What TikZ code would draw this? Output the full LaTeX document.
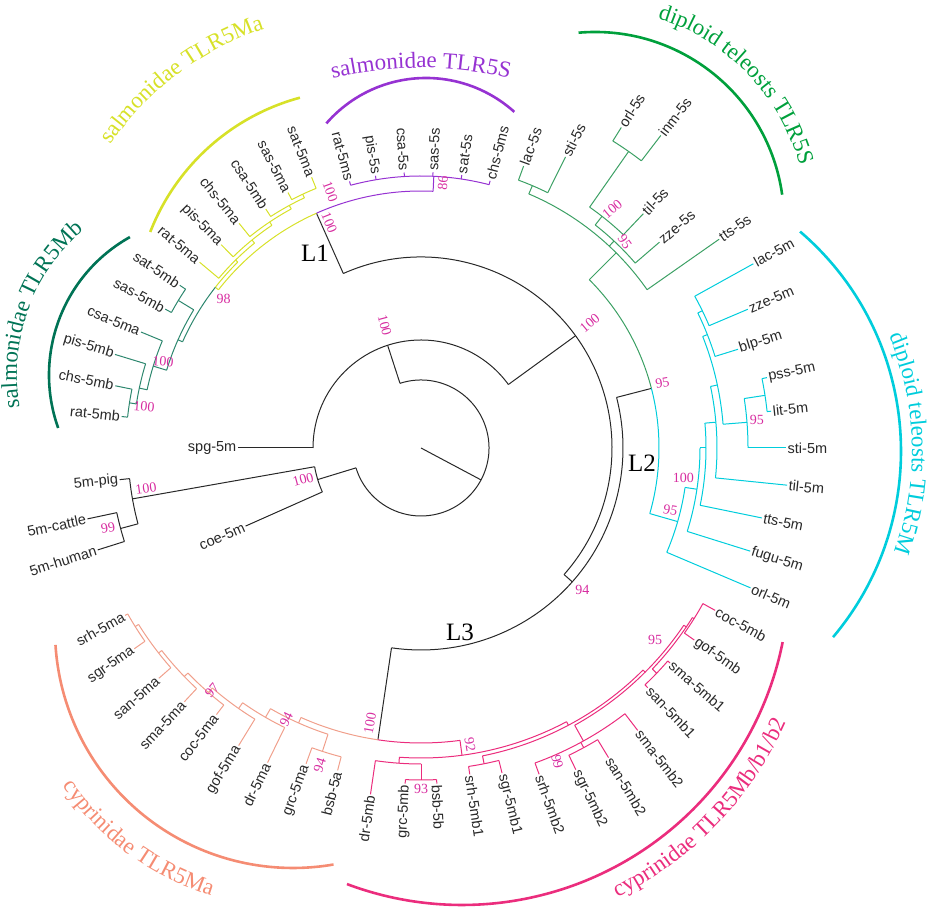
\documentclass[tikz,border=0pt]{standalone}
\usepackage{fontspec}
\setmainfont{Liberation Serif}
\newfontfamily\lblfont{Liberation Sans}
\usetikzlibrary{decorations.text}
\definecolor{blk}{RGB}{40,40,40}
\definecolor{pur}{RGB}{150,50,210}
\definecolor{yel}{RGB}{215,225,40}
\definecolor{tea}{RGB}{45,135,110}
\definecolor{teaD}{RGB}{0,115,85}
\definecolor{grn}{RGB}{60,160,100}
\definecolor{grnD}{RGB}{0,160,60}
\definecolor{cya}{RGB}{0,205,220}
\definecolor{sal}{RGB}{240,160,140}
\definecolor{salD}{RGB}{245,140,115}
\definecolor{mag}{RGB}{235,45,125}
\definecolor{bsc}{RGB}{215,45,160}
\definecolor{lblc}{RGB}{40,40,40}
\tikzset{
  br/.style={line width=1pt},
  grp/.style={line width=2.6pt},
  lbl/.style={font=\lblfont\fontsize{14.5}{16}\selectfont, text=lblc, inner sep=1.5pt},
  bsl/.style={font=\fontsize{14}{16}\selectfont, text=bsc, inner sep=0pt},
  llab/.style={font=\fontsize{25}{27}\selectfont, text=black, inner sep=0pt},
}
\newcommand\mkrad[4]{\draw[br,#1] ({#2}:{#3}) -- ({#2}:{#4});}
\newcommand\mkarc[4]{\draw[br,#1] ({#3}:{#2}) arc[start angle={#3}, end angle={#4}, radius={#2}];}
\newcommand\mkleaf[6]{%
  \draw[br,#5] ({#2}:{#3}) -- ({#2}:{#4}) coordinate (t-#1);
  \pgfmathtruncatemacro\rside{cos(#2)>=0 ? 1 : 0}%
  \ifnum\rside=1\relax
    \node[lbl,rotate={#2},anchor=west] (n-#1) at (t-#1) {#6};%
  \else
    \node[lbl,rotate={#2+180},anchor=east] (n-#1) at (t-#1) {#6};%
  \fi}
\newcommand\mkbs[5]{\node[bsl,rotate={#4}] (b-#1) at ({#2}:{#3}) {#5};}
\newcommand\grptext[7]{% center x, y, radius, start, end, color, text
  \path[decorate, decoration={text along path, text align=center, text color=#6,
     text={|\fontsize{23}{25}\selectfont|#7}}]
     ([shift={(#4:#3)}]#1,#2) arc[start angle=#4, end angle=#5, radius=#3];}
\newcommand\grparc[6]{\draw[grp,#6] ([shift={(#4:#3)}]#1,#2) arc[start angle=#4, end angle=#5, radius=#3];}

\begin{document}
\begin{tikzpicture}[x=1pt,y=1pt]
\useasboundingbox (0,0) rectangle (934,909);
\begin{scope}[shift={(421,461)}]
% ---- backbone (black)
\coordinate (root) at (0,0);
\coordinate (r0) at (-28:68);
\draw[br,blk] (root) -- (r0);
\mkarc{blk}{68}{108}{-163}
\mkrad{blk}{108}{68}{108}
\mkrad{blk}{197}{68}{108}
\mkarc{blk}{108}{180}{36}
\mkarc{blk}{108}{190}{204}
\mkleaf{spg}{180}{108}{183}{blk}{spg-5m}
\mkleaf{coe}{204}{108}{192}{blk}{coe-5m}
\mkrad{blk}{190}{108}{293}
\mkarc{blk}{293}{186}{195}
\mkleaf{pig}{186}{293}{303}{blk}{5m-pig}
\mkrad{blk}{195}{293}{311}
\mkarc{blk}{311}{192}{197.5}
\mkleaf{cattle}{192}{311}{341}{blk}{5m-cattle}
\mkleaf{human}{197.5}{311}{339}{blk}{5m-human}
\mkrad{blk}{36}{108}{191}
\mkarc{blk}{191}{114}{-41.5}
\mkrad{blk}{114}{191}{257}
\mkrad{blk}{-41.5}{191}{202}
\mkarc{blk}{202}{14.5}{-98.4}
\mkrad{blk}{14.5}{202}{238}
\mkrad{blk}{-98.4}{202}{295}
% ---- salmonidae TLR5S (purple)
\mkarc{pur}{257}{114}{87.3}
\mkrad{pur}{87.3}{257}{272}
\mkarc{pur}{272}{105}{75.5}
\mkleaf{ratms}{105}{272}{276}{pur}{rat-5ms}
\mkleaf{piss}{99.5}{272}{276}{pur}{pis-5s}
\mkleaf{csas}{93.5}{272}{276}{pur}{csa-5s}
\mkleaf{sass}{87.5}{272}{276}{pur}{sas-5s}
\mkleaf{sats}{81.5}{272}{276}{pur}{sat-5s}
\mkleaf{chsms}{75.5}{272}{276}{pur}{chs-5ms}
% ---- salmonidae TLR5Ma (yellow)
\mkarc{yel}{257}{114}{142}
\mkrad{yel}{142}{257}{261}
\mkarc{yel}{261}{142}{134.6}
\mkrad{yel}{134.6}{261}{264}
\mkarc{yel}{264}{129.1}{140}
\mkleaf{ratma}{140}{264}{289}{yel}{rat-5ma}
\mkrad{yel}{129.1}{264}{268}
\mkarc{yel}{268}{123.8}{134.5}
\mkleaf{pisma}{134.5}{268}{285}{yel}{pis-5ma}
\mkrad{yel}{123.8}{268}{272}
\mkarc{yel}{272}{118.5}{129}
\mkleaf{chsma}{129}{272}{289}{yel}{chs-5ma}
\mkrad{yel}{118.5}{272}{276}
\mkarc{yel}{276}{115}{123}
\mkleaf{csamb}{123}{276}{285}{yel}{csa-5mb}
\mkrad{yel}{115}{276}{280}
\mkarc{yel}{280}{112}{117.5}
\mkleaf{satma}{112}{280}{292}{yel}{sat-5ma}
\mkleaf{sasma}{117.5}{280}{288}{yel}{sas-5ma}
% ---- salmonidae TLR5Mb (teal)
\mkarc{tea}{261}{142}{156}
\mkrad{tea}{156}{261}{266}
\mkarc{tea}{266}{148.7}{163}
\mkrad{tea}{148.7}{266}{284}
\mkarc{tea}{284}{146}{151.5}
\mkleaf{satmb}{146}{284}{291}{tea}{sat-5mb}
\mkleaf{sasmb}{151.5}{284}{291}{tea}{sas-5mb}
\mkrad{tea}{163}{266}{280}
\mkarc{tea}{280}{157.5}{168}
\mkleaf{csama}{157.5}{280}{303}{tea}{csa-5ma}
\mkrad{tea}{168}{280}{288}
\mkarc{tea}{288}{163}{171.2}
\mkleaf{pismb}{163}{288}{320}{tea}{pis-5mb}
\mkrad{tea}{171.2}{288}{295}
\mkarc{tea}{295}{168.5}{174}
\mkleaf{chsmb}{168.5}{295}{312}{tea}{chs-5mb}
\mkleaf{ratmb}{174}{295}{301}{tea}{rat-5mb}
% ---- diploid teleosts TLR5S (green)
\mkarc{grn}{238}{14.5}{45}
\mkrad{grn}{45}{238}{276}
\mkarc{grn}{276}{67}{35}
\mkrad{grn}{67}{276}{285}
\mkarc{grn}{285}{70}{63.6}
\mkleaf{lacs}{70}{285}{300}{grn}{lac-5s}
\mkleaf{stis}{63.6}{285}{325}{grn}{sti-5s}
\mkleaf{ttss}{35}{276}{364}{grn}{tts-5s}
\mkrad{grn}{47}{276}{283}
\mkarc{grn}{283}{52}{40.8}
\mkleaf{zzes}{40.8}{283}{315}{grn}{zze-5s}
\mkrad{grn}{52}{283}{294}
\mkarc{grn}{294}{55}{46.5}
\mkleaf{tils}{46.5}{294}{323}{grn}{til-5s}
\mkrad{grn}{55}{294}{362}
\mkarc{grn}{362}{58}{52.5}
\mkleaf{orls}{58}{362}{378}{grn}{orl-5s}
\mkleaf{inms}{52.5}{362}{394}{grn}{inm-5s}
% ---- diploid teleosts TLR5M (cyan)
\mkarc{cya}{238}{14.5}{-16}
\mkrad{cya}{-16}{238}{267}
\mkarc{cya}{267}{-8.5}{-23}
\mkleaf{orlm}{-23}{267}{358}{cya}{orl-5m}
\mkrad{cya}{-8.5}{267}{279}
\mkarc{cya}{279}{0}{-17.4}
\mkleaf{fugum}{-17.4}{279}{345}{cya}{fugu-5m}
\mkrad{cya}{0}{279}{285}
\mkarc{cya}{285}{5}{-11.6}
\mkleaf{ttsm}{-11.6}{285}{348}{cya}{tts-5m}
\mkrad{cya}{5}{285}{296}
\mkarc{cya}{296}{12}{-5.8}
\mkleaf{tilm}{-5.8}{296}{368}{cya}{til-5m}
\mkrad{cya}{12}{296}{303}
\mkarc{cya}{303}{4.5}{21.6}
\mkrad{cya}{4.5}{303}{327}
\mkarc{cya}{327}{0}{8.7}
\mkleaf{stim}{0}{327}{365}{cya}{sti-5m}
\mkrad{cya}{8.7}{327}{348}
\mkarc{cya}{348}{6}{11.5}
\mkleaf{pssm}{11.5}{348}{353}{cya}{pss-5m}
\mkleaf{litm}{6}{348}{352}{cya}{lit-5m}
\mkrad{cya}{21.6}{303}{308}
\mkarc{cya}{308}{17.3}{26}
\mkleaf{blpm}{17.3}{308}{332}{cya}{blp-5m}
\mkrad{cya}{26}{308}{313}
\mkarc{cya}{313}{23}{29}
\mkleaf{zzem}{23}{313}{355}{cya}{zze-5m}
\mkleaf{lacm}{29}{313}{380}{cya}{lac-5m}
% ---- cyprinidae TLR5Ma (salmon)
\mkarc{sal}{295}{261.6}{246}
\mkrad{sal}{246}{295}{301}
\mkarc{sal}{301}{240}{252}
\mkrad{sal}{252}{301}{319}
\mkarc{sal}{319}{250}{255.5}
\mkleaf{grcma}{250}{319}{336}{sal}{grc-5ma}
\mkleaf{bsba}{255.5}{319}{333}{sal}{bsb-5a}
\mkrad{sal}{240}{301}{311}
\mkarc{sal}{311}{235}{244}
\mkleaf{drma}{244}{311}{350}{sal}{dr-5ma}
\mkrad{sal}{235}{311}{318}
\mkarc{sal}{318}{229}{238.5}
\mkleaf{gofma}{238.5}{318}{349}{sal}{gof-5ma}
\mkrad{sal}{229}{318}{324}
\mkarc{sal}{324}{224}{232.5}
\mkleaf{cocma}{232.5}{324}{336}{sal}{coc-5ma}
\mkrad{sal}{224}{324}{329}
\mkarc{sal}{329}{218}{227}
\mkleaf{smama}{227}{329}{347}{sal}{sma-5ma}
\mkrad{sal}{218}{329}{333}
\mkarc{sal}{333}{212}{221.3}
\mkleaf{sanma}{221.3}{333}{349}{sal}{san-5ma}
\mkrad{sal}{212}{333}{337}
\mkarc{sal}{337}{209.5}{215}
\mkleaf{srhma}{209.5}{337}{340}{sal}{srh-5ma}
\mkleaf{sgrma}{215}{337}{350}{sal}{sgr-5ma}
% ---- cyprinidae TLR5Mb/b1/b2 (magenta)
\mkarc{mag}{295}{261.6}{277.6}
\mkrad{mag}{277.6}{295}{310}
\mkarc{mag}{310}{266}{298}
\mkrad{mag}{266}{310}{316}
\mkarc{mag}{316}{261.7}{270}
\mkleaf{drmb}{261.7}{316}{350}{mag}{dr-5mb}
\mkrad{mag}{270}{316}{332}
\mkarc{mag}{332}{267.3}{272.7}
\mkleaf{grcmb}{267.3}{332}{336}{mag}{grc-5mb}
\mkleaf{bsbb}{272.7}{332}{336}{mag}{bsb-5b}
\mkrad{mag}{298}{310}{314}
\mkarc{mag}{314}{281.3}{315}
\mkrad{mag}{281.3}{314}{322}
\mkarc{mag}{322}{278.5}{284}
\mkleaf{srhb1}{278.5}{322}{330}{mag}{srh-5mb1}
\mkleaf{sgrb1}{284}{322}{335}{mag}{sgr-5mb1}
\mkrad{mag}{315}{314}{317}
\mkarc{mag}{317}{299}{326}
\mkrad{mag}{299}{317}{335}
\mkarc{mag}{335}{289.9}{307.5}
\mkleaf{srhb2}{289.9}{335}{347}{mag}{srh-5mb2}
\mkleaf{smab2}{307.5}{335}{356}{mag}{sma-5mb2}
\mkrad{mag}{298.5}{335}{341}
\mkarc{mag}{341}{295.7}{301.2}
\mkleaf{sgrb2}{295.7}{341}{357}{mag}{sgr-5mb2}
\mkleaf{sanb2}{301.2}{341}{362}{mag}{san-5mb2}
\mkrad{mag}{326}{317}{320}
\mkarc{mag}{320}{316.3}{328}
\mkrad{mag}{316.3}{320}{326}
\mkarc{mag}{326}{313.4}{319.2}
\mkleaf{sanb1}{313.4}{326}{330}{mag}{san-5mb1}
\mkleaf{smab1}{319.2}{326}{329}{mag}{sma-5mb1}
\mkrad{mag}{328}{320}{322}
\mkarc{mag}{322}{324.9}{331.1}
\mkleaf{gofmb}{324.9}{322}{334}{mag}{gof-5mb}
\mkleaf{cocmb}{331.1}{322}{336}{mag}{coc-5mb}
% ---- bootstrap values
\mkbs{1}{106.5}{128}{-75}{100}
\mkbs{2}{195}{122}{15}{100}
\mkbs{3}{188.3}{278}{8}{100}
\mkbs{4}{194.3}{323}{10}{99}
\mkbs{5}{36.5}{210}{40}{100}
\mkbs{6}{112.2}{243}{-68}{100}
\mkbs{7}{109.5}{272}{-70}{100}
\mkbs{8}{85.3}{266}{85}{86}
\mkbs{9}{143}{247}{0}{98}
\mkbs{10}{161.5}{272}{-5}{100}
\mkbs{11}{171.5}{280}{-5}{100}
\mkbs{12}{15.1}{250}{10}{95}
\mkbs{13}{-41.4}{215}{0}{94}
\mkbs{14}{-14}{257}{-10}{95}
\mkbs{15}{-6.5}{264}{0}{100}
\mkbs{16}{4.8}{337}{0}{95}
\mkbs{17}{51.3}{306}{40}{100}
\mkbs{18}{45.3}{290}{-55}{95}
\mkbs{19}{229.2}{320}{49}{97}
\mkbs{20}{243.6}{303}{64}{94}
\mkbs{21}{252.3}{333}{72}{94}
\mkbs{22}{-100.5}{280}{80}{100}
\mkbs{23}{-80.6}{301}{-80}{92}
\mkbs{24}{270}{341}{0}{93}
\mkbs{25}{-66.5}{342}{-75}{99}
\mkbs{26}{-39.4}{303}{0}{95}
\end{scope}
% ---- clade labels L1 L2 L3
\node[llab] (L1) at (315,656) {L1};
\node[llab] (L2) at (642,446) {L2};
\node[llab] (L3) at (460,277) {L3};
% ---- group arcs and names
\grparc{426}{699}{132}{139}{48}{pur}
\grptext{421}{461}{380}{110}{70}{pur}{salmonidae TLR5S}
\grparc{358}{596}{223}{158.7}{105.1}{yel}
\grptext{358}{596}{299}{162}{92}{yel}{salmonidae TLR5Ma}
\grparc{207}{534}{158}{119.2}{199.6}{teaD}
\grptext{207}{534}{190}{200}{120}{teaD}{salmonidae TLR5Mb}
\grparc{595}{688}{189}{95}{8}{grnD}
\grptext{595}{688}{212}{88}{0}{grnD}{diploid teleosts TLR5S}
\grparc{612}{458}{289}{49.4}{-40.1}{cya}
\grptext{612}{458}{300}{37}{-34}{cya}{diploid teleosts TLR5M}
\grparc{293}{279}{238}{183.6}{279.8}{salD}
\grptext{293}{279}{278}{195}{272}{salD}{cyprinidae TLR5Ma}
\grparc{462}{331}{327}{249.4}{348.7}{mag}
\grptext{462}{331}{355}{282}{350}{mag}{cyprinidae TLR5Mb/b1/b2}
\end{tikzpicture}
\end{document}
